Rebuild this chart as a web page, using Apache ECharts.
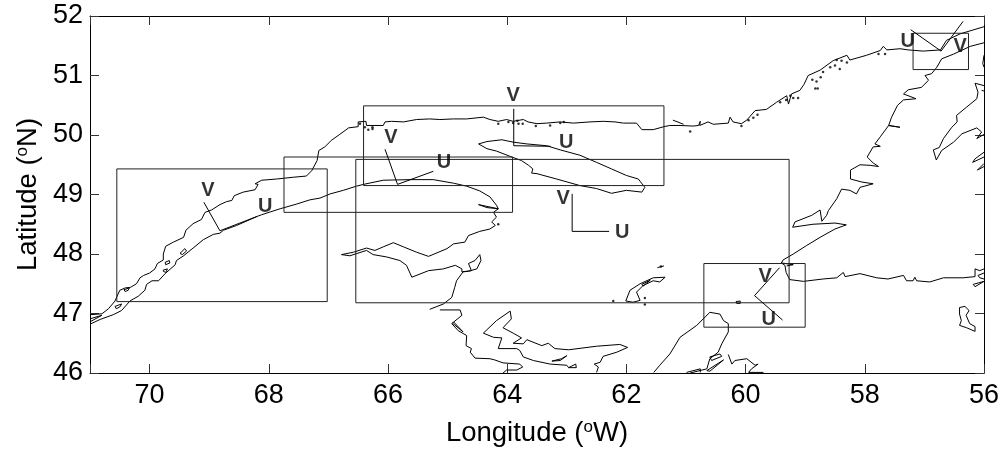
<!DOCTYPE html>
<html><head><meta charset="utf-8">
<style>html,body{margin:0;padding:0;background:#fff}#c{width:1002px;height:452px}</style>
<script src="https://cdn.jsdelivr.net/npm/echarts@6/dist/echarts.min.js"></script>
</head><body><div id="c"></div>
<script>
const lonTicks=[56,58,60,62,64,66,68,70];
const latTicks=[46,47,48,49,50,51,52];
// longitude (deg W), latitude (deg N)
const northShore=[[71,46.98],[70.8,46.995],[70.69,47.08],[70.58,47.21],[70.55,47.28],[70.5,47.39],[70.41,47.43],[70.32,47.44],[70.22,47.5],[70.16,47.6],[70.1,47.64],[70,47.68],[69.91,47.75],[69.87,47.84],[69.77,47.9],[69.77,48],[69.73,48.13],[69.6,48.2],[69.43,48.28],[69.39,48.4],[69.27,48.51],[69.13,48.58],[69.07,48.7],[68.96,48.74],[68.82,48.83],[68.71,48.88],[68.62,48.9],[68.58,48.98],[68.43,49.04],[68.4,49.01],[68.23,49.08],[68.18,49.17],[68.23,49.18],[68.12,49.24],[67.87,49.26],[67.59,49.29],[67.37,49.31],[67.28,49.4],[67.19,49.57],[67.16,49.74],[67.06,49.8],[66.95,49.91],[66.81,50.01],[66.66,50.12],[66.5,50.14],[66.5,50.22],[66.37,50.23],[66.36,50.16],[66.08,50.16],[66.05,50.22],[65.94,50.23],[65.74,50.22],[65.52,50.26],[65.3,50.27],[65.13,50.26],[64.9,50.27],[64.68,50.27],[64.4,50.3],[64.29,50.26],[64.15,50.23],[64.01,50.26],[63.9,50.23],[63.73,50.26],[63.65,50.22],[63.5,50.19],[63.34,50.2],[63.11,50.22],[62.89,50.2],[62.61,50.22],[62.39,50.23],[62.19,50.22],[62.05,50.2],[61.83,50.2],[61.74,50.09],[61.55,50.09],[61.37,50.14],[61.27,50.16],[61.1,50.16],[60.88,50.15],[60.79,50.16],[60.76,50.23],[60.77,50.16],[60.63,50.22],[60.54,50.18],[60.29,50.2],[60.26,50.3],[60.21,50.22],[60.07,50.19],[59.98,50.25],[59.84,50.41],[59.65,50.43],[59.48,50.55],[59.31,50.66],[59.28,50.52],[59.23,50.69],[59.09,50.75],[59.02,50.85],[58.95,51],[58.75,51.09],[58.53,51.25],[58.3,51.34],[58.25,51.26],[57.97,51.34],[57.74,51.42],[57.69,51.49],[57.63,51.43],[57.41,51.45],[57.27,51.43],[57.02,51.41],[56.73,51.43],[56.63,51.59],[56.4,51.7],[56,51.82]];
const northSpike=[[61.22,50.25],[61.04,50.18]];
const newfoundlandWest=[[56,51.55],[56.23,51.49],[56.51,51.36],[56.71,51.28],[56.79,51.14],[56.88,51.03],[56.99,51],[56.93,50.92],[57.05,50.8],[57.27,50.76],[57.35,50.69],[57.14,50.61],[57.35,50.59],[57.45,50.5],[57.55,50.3],[57.6,50.16],[57.41,50.13],[57.6,50.16],[57.74,49.97],[57.83,49.85],[57.74,49.81],[57.86,49.8],[57.96,49.63],[57.86,49.53],[57.77,49.47],[57.91,49.49],[58.08,49.5],[58.24,49.41],[58.24,49.26],[58.05,49.21],[57.86,49.18],[58.08,49.12],[58.14,49.01],[58.25,49.07],[58.39,49.09],[58.47,48.93],[58.61,48.73],[58.64,48.65],[58.72,48.55],[58.75,48.74],[58.89,48.65],[59.17,48.54],[59.21,48.45],[58.87,48.5],[58.5,48.52],[58.31,48.49],[58.5,48.42],[58.75,48.28],[58.98,48.14],[59.2,48],[59.37,47.9],[59.4,47.85],[59.34,47.81],[59.32,47.69],[59.26,47.57],[59.03,47.54],[58.7,47.58],[58.47,47.6],[58.36,47.69],[58.33,47.62],[58.08,47.67],[57.8,47.6],[57.61,47.58],[57.35,47.64],[57.3,47.55],[57.19,47.55],[57.16,47.61],[57.13,47.55],[56.91,47.53],[56.68,47.6],[56.35,47.6],[56.15,47.62],[56.15,47.75],[56.07,47.72],[56,47.75]];
const portAuxSpike=[[59.4,47.85],[59.2,47.82],[59.31,47.8]];
const southEast1=[[56,47.68],[56.1,47.64],[56.07,47.6],[56,47.58]];
const southEast2=[[56.18,47.49],[56,47.54],[56.15,47.45],[56.18,47.49]];
const stPierre=[[56.41,47.1],[56.32,47.12],[56.25,47.05],[56.3,46.97],[56.24,46.83],[56.15,46.78],[56.15,46.7],[56.29,46.76],[56.41,46.8],[56.38,46.88],[56.41,46.99],[56.41,47.1]];
const stPaulIsle=[[60.16,47.2],[60.09,47.21],[60.09,47.17],[60.15,47.17],[60.16,47.2]];
const nfInteriorA=[[56.8,49.58],[56.71,49.74],[56.51,49.88],[56.37,50.02],[56.12,50.12],[56.04,50.05],[56.12,49.94],[56,50.01]];
const nfInteriorB=[[56.8,49.58],[56.85,49.75],[56.75,49.79],[56.68,49.94],[56.54,50.13],[56.45,50.22],[56.46,50.33],[56.29,50.47],[56.12,50.61],[56.1,50.72],[56.15,50.87],[56,50.83]];
const nfInteriorC=[[56.04,50.75],[56,50.74]];
const nfInteriorD=[[56,51.34],[56.02,51.2],[56,51.14]];
const nfInteriorE=[[56,49.71],[56.15,49.6],[56.19,49.54],[56,49.63]];
const nfInteriorF=[[56,49.52],[56.11,49.41],[56,49.47]];
const gaspeShore=[[71,46.82],[70.83,46.9],[70.61,46.98],[70.47,47.05],[70.33,47.21],[70.19,47.29],[70.08,47.39],[70.05,47.49],[69.96,47.55],[69.85,47.55],[69.74,47.67],[69.57,47.82],[69.55,47.89],[69.43,47.97],[69.27,48.1],[69.1,48.24],[68.93,48.33],[68.82,48.35],[68.76,48.4],[68.54,48.48],[68.2,48.63],[68.12,48.66],[67.81,48.76],[67.53,48.84],[67.31,48.91],[67.14,48.94],[66.97,49.01],[66.75,49.07],[66.53,49.14],[66.41,49.17],[66.08,49.24],[65.63,49.25],[65.24,49.25],[64.9,49.19],[64.68,49.14],[64.46,49.06],[64.29,48.96],[64.18,48.82],[64.15,48.76],[64.34,48.8],[64.48,48.83],[64.34,48.78],[64.15,48.76],[64.23,48.7],[64.18,48.62],[64.26,48.54],[64.2,48.48],[64.29,48.42],[64.46,48.38],[64.65,48.31],[64.71,48.2],[64.9,48.17],[65.01,48.09],[65.32,47.96],[65.52,48.03],[65.74,48.12],[65.91,48.19],[66.08,48.12],[66.22,48.06],[66.36,48.1],[66.58,48.03],[66.78,47.99],[66.64,47.97],[66.36,48.06],[66.25,47.99],[66.02,47.95],[65.8,47.89],[65.69,47.81],[65.6,47.61],[65.32,47.72],[65.07,47.75],[64.87,47.81],[64.76,47.75],[64.76,47.7],[64.6,47.72],[64.65,47.84],[64.54,47.89],[64.46,47.99],[64.44,47.89],[64.51,47.75],[64.65,47.71],[64.74,47.7],[64.85,47.55],[64.88,47.44],[64.93,47.27],[65.07,47.16],[65.3,47.07]];
const newBrunswick=[[65.13,47.06],[64.96,47.06],[64.79,47.06],[64.76,46.97],[64.93,46.83],[64.82,46.71],[64.68,46.63],[64.69,46.46],[64.6,46.41],[64.62,46.35],[64.54,46.25],[64.29,46.24],[64.21,46.22],[64.07,46.17],[63.79,46.15],[63.74,46.1],[63.84,46.05],[64.01,46.05],[64.07,46]];
const nbSpit=[[64.92,46.84],[64.74,46.69],[64.76,46.71],[64.9,46.86]];
const peiWest=[[63.95,47.04],[64.18,46.88],[64.4,46.67],[64.23,46.6],[64.09,46.59],[64.15,46.41],[63.84,46.41],[63.79,46.38],[63.73,46.27],[63.56,46.21],[63.28,46.15],[63,46.13],[62.97,46.09],[62.85,46.15],[62.84,46.09],[62.97,46.09]];
const peiEast=[[63.95,47.04],[63.93,46.91],[64.07,46.76],[63.9,46.67],[63.76,46.59],[63.9,46.5],[63.73,46.49],[63.67,46.56],[63.42,46.46],[63.31,46.5],[63.2,46.41],[62.97,46.39],[62.5,46.45],[62.11,46.48],[61.98,46.43],[62.16,46.35],[62.39,46.28],[62.44,46.18],[62.54,46.15],[62.47,46.1],[62.5,46.01]];
const peiSlim=[[63.25,46.2],[63.09,46.24],[63,46.29],[63.11,46.21],[63.25,46.2]];
const magdalen=[[62.01,47.21],[61.94,47.39],[61.77,47.5],[61.55,47.6],[61.35,47.61],[61.44,47.53],[61.55,47.55],[61.72,47.47],[61.83,47.36],[61.77,47.22],[61.89,47.19],[62.01,47.21]];
const magdalenInner=[[61.74,47.49],[61.6,47.56],[61.58,47.53],[61.72,47.46],[61.74,47.49]];
const birdRocks=[[61.48,47.77],[61.37,47.8]];
const capeBreton=[[61.54,46.01],[61.44,46.13],[61.27,46.32],[61.1,46.6],[60.82,46.8],[60.6,47.02],[60.43,46.99],[60.37,46.88],[60.29,46.83],[60.29,46.69],[60.4,46.49],[60.46,46.35],[60.6,46.24],[60.65,46.07],[60.93,46]];
const brasDorA=[[60.6,46.27],[60.43,46.32],[60.4,46.28],[60.57,46.21],[60.6,46.27]];
const brasDorB=[[60.65,46.04],[60.37,46.22],[60.35,46.2],[60.6,46.03],[60.65,46.04]];
const capeBretonEast=[[60.29,46.31],[60.23,46.15],[60.18,46.21],[59.98,46.24],[59.84,46.13],[59.79,46.15],[59.9,46.07],[59.95,46.01],[59.7,46.01]];
const capeBretonSouth=[[60.99,46.01],[60.76,46.07],[60.76,46.01]];
const anticosti=[[64.48,49.85],[64.34,49.89],[64.09,49.92],[63.9,49.88],[63.67,49.85],[63.34,49.82],[63.11,49.75],[62.78,49.66],[62.5,49.54],[62.25,49.43],[62,49.32],[61.8,49.26],[61.69,49.12],[61.74,49.04],[62,49.07],[62.25,49.02],[62.5,49.1],[62.78,49.15],[63.17,49.26],[63.5,49.35],[63.59,49.36],[63.57,49.43],[63.64,49.49],[63.76,49.57],[63.95,49.64],[64.18,49.73],[64.34,49.77],[64.48,49.85]];
const estuaryInner=[[71,46.86],[70.8,46.97],[71,46.91]];
const isle1=[[70.58,47.12],[70.47,47.16],[70.5,47.11],[70.56,47.08],[70.58,47.12]];
const isle2=[[70.43,47.4],[70.34,47.43],[70.36,47.39],[70.41,47.37],[70.43,47.4]];
const isle3=[[69.49,48.01],[69.41,48.09],[69.38,48.05],[69.45,47.99],[69.49,48.01]];
const isle4=[[69.74,47.86],[69.67,47.89],[69.66,47.85],[69.73,47.82],[69.74,47.86]];
const isle5=[[69.77,47.73],[69.7,47.75],[69.73,47.69],[69.77,47.71],[69.77,47.73]];
const islets=[[60.93,50.06],[60.07,50.15],[59.95,50.25],[59.87,50.29],[59.8,50.34],[59.42,50.55],[59.32,50.59],[59.25,50.66],[59.2,50.62],[59.12,50.62],[58.88,50.93],[58.81,50.9],[58.74,50.97],[58.83,50.78],[58.79,50.78],[58.7,51.06],[58.58,51.14],[58.5,51.17],[58.42,51.11],[58.47,51.26],[58.39,51.25],[58.3,51.22],[57.77,51.36],[57.66,51.36],[66.47,50.19],[66.39,50.13],[66.33,50.09],[66.26,50.1],[66.26,50.13],[64.15,50.19],[63.98,50.22],[63.9,50.2],[63.83,50.24],[63.81,50.19],[63.74,50.19],[63.52,50.15],[63.28,50.16],[63.11,50.2],[63.05,50.22],[64.15,48.5],[62.22,47.21],[61.69,47.26],[61.69,47.15],[61.42,47.79]];
const coastlines=[northShore,northSpike,newfoundlandWest,portAuxSpike,southEast1,southEast2,stPierre,stPaulIsle,nfInteriorA,nfInteriorB,nfInteriorC,nfInteriorD,nfInteriorE,nfInteriorF,gaspeShore,newBrunswick,nbSpit,peiWest,peiEast,peiSlim,magdalen,magdalenInner,birdRocks,capeBreton,brasDorA,brasDorB,capeBretonEast,capeBretonSouth,anticosti,estuaryInner,isle1,isle2,isle3,isle4,isle5];
// regions: west, east, south, north edges
const boxWest=[70.55,67.02,47.20,49.43];
const boxLower=[67.745,63.91,48.70,49.63];
const boxGulf=[66.54,59.27,47.18,49.59];
const boxNorth=[66.41,61.37,49.15,50.49];
const boxCabot=[60.70,59.00,46.77,47.84];
const boxBelleIsle=[57.19,56.26,51.10,51.71];
const boxes=[boxWest,boxLower,boxGulf,boxNorth,boxCabot,boxBelleIsle];
// mean current vectors: tip of V, origin, tip of U
const vectors=[
 [[69.09,48.87],[68.82,48.39],[68.20,48.63]],
 [[66.05,49.76],[65.84,49.17],[65.24,49.39]],
 [[63.89,50.44],[63.89,49.82],[63.27,49.81]],
 [[62.91,49.01],[62.91,48.38],[62.29,48.38]],
 [[59.43,47.77],[59.85,47.30],[59.38,46.89]],
 [[56.35,51.91],[56.72,51.41],[57.23,51.77]]
];
const vLabels=[[69.02,49.07],[65.95,49.96],[63.90,50.66],[63.06,48.93],[59.67,47.62],[56.40,51.49]];
const uLabels=[[68.06,48.80],[65.06,49.54],[63.01,49.87],[62.07,48.36],[59.61,46.90],[57.28,51.57]];

const font='"Liberation Sans",Arial,sans-serif';
const lineSeries=(data,color)=>({type:'line',data,symbol:'none',silent:true,animation:false,clip:false,
  lineStyle:{width:1,color},z:3});
const series=[];
coastlines.forEach(c=>series.push(lineSeries(c,'#000')));
boxes.forEach(b=>series.push(lineSeries([[b[0],b[2]],[b[1],b[2]],[b[1],b[3]],[b[0],b[3]],[b[0],b[2]]],'#222')));
vectors.forEach(v=>series.push(lineSeries(v,'#000')));
series.push({type:'scatter',data:islets,symbol:'circle',symbolSize:2.5,itemStyle:{color:'#000'},silent:true});
const lab=(arr,t)=>({type:'scatter',data:arr,symbolSize:0,silent:true,z:5,
  label:{show:true,position:'inside',formatter:t,color:'#000',fontFamily:font,fontWeight:'bold',fontSize:20}});
series.push(lab(vLabels,'V'),lab(uLabels,'U'));

const rich={sup:{fontSize:17,fontFamily:font,color:'#000',verticalAlign:'bottom',padding:[0,0,11,0]},
            n:{fontSize:27.5,fontFamily:font,color:'#000'}};
const chart=echarts.init(document.getElementById('c'),null,{renderer:'canvas'});
const mkAxis=(extra)=>Object.assign({type:'value',splitLine:{show:false},
  axisLine:{show:true,onZero:false,lineStyle:{color:'#000',width:1}},
  axisTick:{show:true,inside:true,length:9,lineStyle:{color:'#333',width:1}}},extra);
chart.setOption({
  animation:false,backgroundColor:'#fff',
  grid:{left:90,right:18,top:16,bottom:79,containLabel:false},
  xAxis:[
   mkAxis({min:56,max:71,interval:2,inverse:true,position:'bottom',
    name:'{n|Longitude (}{sup|o}{n|W)}',nameLocation:'middle',nameGap:46,nameTextStyle:{rich},
    axisLabel:{margin:9,color:'#000',fontFamily:font,fontSize:27,formatter:v=>lonTicks.includes(v)?String(v):''}}),
   mkAxis({min:56,max:71,interval:2,inverse:true,position:'top',axisLabel:{show:false}})
  ],
  yAxis:[
   mkAxis({min:46,max:52,interval:1,position:'left',
    name:'{n|Latitude (}{sup|o}{n|N)}',nameLocation:'middle',nameGap:46,nameRotate:90,nameTextStyle:{rich},
    axisLabel:{margin:7,color:'#000',fontFamily:font,fontSize:27,formatter:v=>latTicks.includes(v)?String(v):''}}),
   mkAxis({min:46,max:52,interval:1,position:'right',axisLabel:{show:false}})
  ],
  series
});
</script></body></html>
